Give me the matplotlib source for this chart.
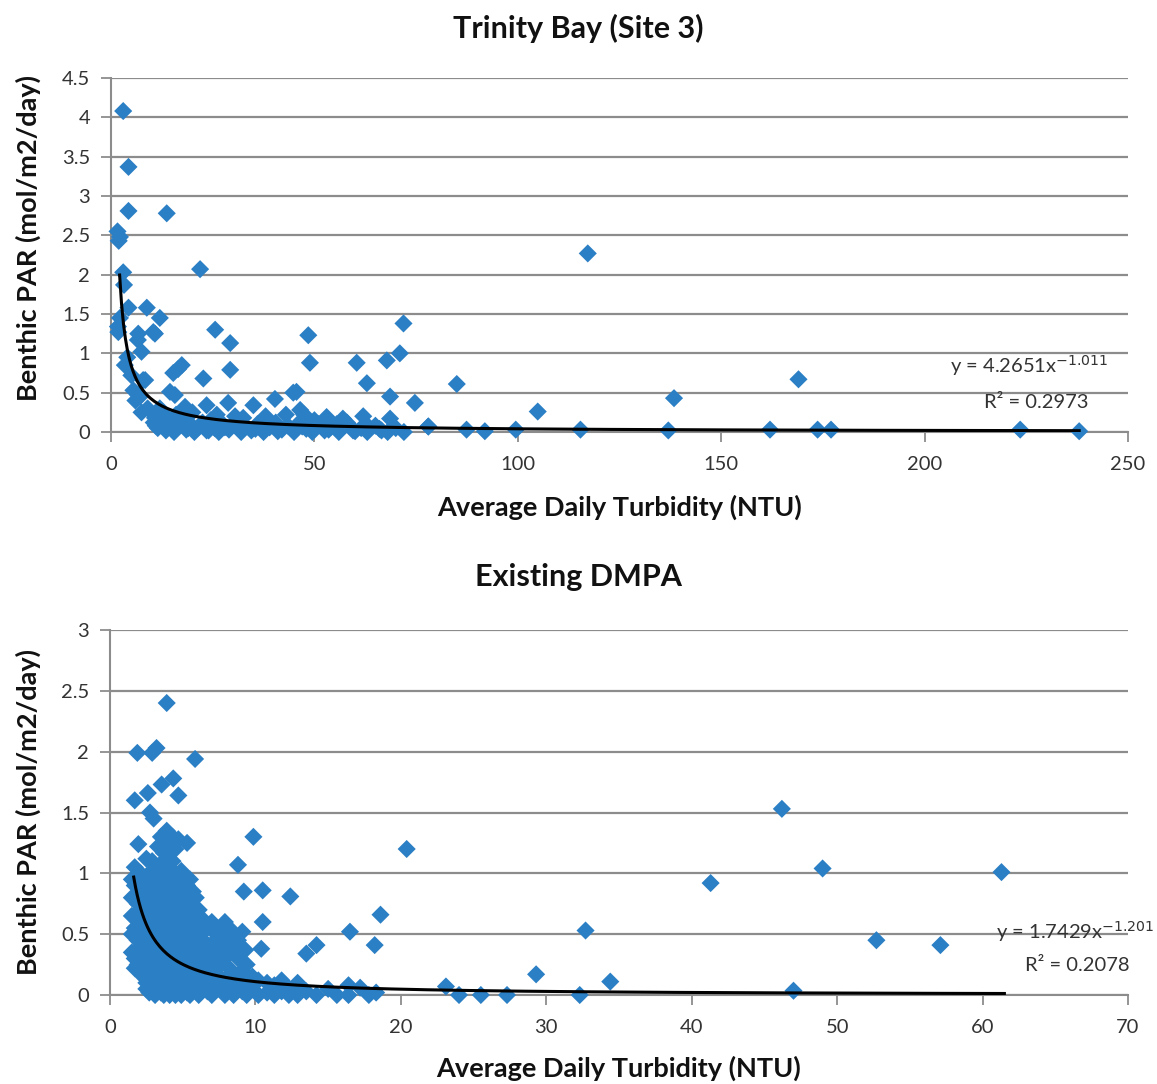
import matplotlib
matplotlib.use("Agg")
import matplotlib.pyplot as plt
import matplotlib.transforms as mtransforms
import numpy as np

plt.rcParams["font.family"] = ["Lato", "DejaVu Sans"]

BLUE = "#2b7fc4"
GRID = "#8c8c8c"
W, H = 1157, 1084

# --- Trinity Bay (Site 3) ---
top_x = [
    3.0, 4.3, 4.3, 13.7, 1.6, 2.2, 1.9, 21.9, 3.0, 3.2, 4.3, 8.8, 2.2, 12.0, 1.7,
    10.4, 6.6, 7.5, 25.6, 29.3, 48.5, 48.9, 71.9, 71.0, 67.8, 60.4, 68.6, 74.7,
    85.0, 62.9, 3.4, 5.5, 7.1, 7.9, 17.4, 15.3, 16.5, 22.7, 29.3, 14.5, 15.7,
    10.8, 13.7, 18.2, 23.5, 28.8, 35.0, 40.3, 44.8, 46.5, 47.5, 53.0, 57.0, 68.6,
    78.0, 87.4, 91.9, 117.2, 169.0, 138.4, 104.9, 99.5, 115.4, 137.0, 162.0,
    173.7, 177.0, 223.5, 238.0, 1.8, 6.7, 10.8, 8.4, 6.7, 45.6, 62.9, 78.0,
    10.5, 11.5, 12.5, 13.5, 14.5, 15.5, 16.5, 17.5, 18.5, 19.5, 20.5, 21.5,
    22.5, 23.5, 24.5, 25.5, 26.5, 27.5, 29.0, 30.5, 32.0, 33.0, 34.5, 36.0,
    37.5, 39.0, 40.5, 42.0, 43.5, 45.0, 46.5, 48.0, 49.5, 51.0, 52.5, 54.0,
    56.0, 58.0, 59.5, 61.5, 63.0, 65.0, 66.5, 68.0, 70.0, 72.0, 18.0, 20.0,
    26.0, 30.5, 32.5, 38.0, 43.0, 50.0, 55.5, 62.0, 16.0, 12.0, 9.0, 6.0,
    5.0, 4.0, 7.5, 11.0, 19.0, 24.0, 28.0, 35.5, 41.0, 47.0, 53.5, 60.0, 66.0,
]
top_y = [
    4.08, 3.37, 2.81, 2.78, 2.55, 2.48, 2.43, 2.07, 2.03, 1.87, 1.58, 1.58, 1.45,
    1.45, 1.34, 1.27, 1.17, 1.02, 1.30, 1.13, 1.23, 0.88, 1.38, 1.00, 0.91, 0.88,
    0.45, 0.37, 0.61, 0.62, 0.85, 0.53, 0.45, 0.66, 0.85, 0.75, 0.80, 0.68, 0.79,
    0.51, 0.47, 0.18, 0.19, 0.32, 0.34, 0.37, 0.34, 0.42, 0.50, 0.28, 0.22, 0.19,
    0.17, 0.17, 0.07, 0.03, 0.01, 2.27, 0.67, 0.43, 0.26, 0.03, 0.03, 0.02, 0.03,
    0.03, 0.03, 0.03, 0.01, 1.27, 1.25, 1.25, 0.66, 0.47, 0.51, 0.09, 0.07,
    0.12, 0.05, 0.15, 0.02, 0.10, 0.00, 0.08, 0.13, 0.03, 0.10, 0.00, 0.06,
    0.12, 0.02, 0.15, 0.05, 0.00, 0.10, 0.03, 0.12, 0.00, 0.07, 0.02, 0.10,
    0.00, 0.06, 0.12, 0.03, 0.08, 0.00, 0.13, 0.04, 0.00, 0.10, 0.02, 0.06,
    0.00, 0.12, 0.02, 0.05, 0.00, 0.08, 0.02, 0.00, 0.05, 0.00, 0.20, 0.25,
    0.22, 0.20, 0.18, 0.20, 0.22, 0.15, 0.10, 0.20, 0.22, 0.30, 0.30, 0.40,
    0.72, 0.95, 0.25, 0.08, 0.05, 0.02, 0.06, 0.04, 0.01, 0.07, 0.03, 0.01, 0.04,
]
top_a, top_b, top_r2 = 4.2651, -1.011, 0.2973
top_trend_range = (2.12, 238.0)

# --- Existing DMPA ---
bot_x = [
    # outliers
    3.9, 1.88, 2.9, 3.2, 5.85, 3.55, 4.35, 4.7, 1.7, 2.6, 2.75, 3.0, 1.95, 3.7,
    9.86, 8.8, 9.2, 10.5, 12.4, 10.5, 16.5, 18.6, 18.2, 13.5, 14.2, 9.3, 10.4,
    2.3, 20.4, 41.3, 46.2, 49.0, 61.3, 32.7, 52.7, 57.1, 29.3, 34.4, 23.1, 24.0,
    25.5, 27.3, 32.3, 47.0,
    # dense cluster
    1.5, 1.5, 1.5, 1.5, 1.5,
    1.7, 1.7, 1.7, 1.7, 1.7,
    1.9, 1.9, 1.9, 1.9,
    2.1, 2.1, 2.1, 2.1, 2.1, 2.1,
    2.3, 2.3, 2.3, 2.3, 2.3,
    2.5, 2.5, 2.5, 2.5, 2.5, 2.5, 2.5,
    2.7, 2.7, 2.7, 2.7, 2.7, 2.7, 2.7,
    2.9, 2.9, 2.9, 2.9, 2.9, 2.9, 2.9,
    3.1, 3.1, 3.1, 3.1, 3.1, 3.1, 3.1,
    3.3, 3.3, 3.3, 3.3, 3.3, 3.3, 3.3,
    3.5, 3.5, 3.5, 3.5, 3.5, 3.5, 3.5, 3.5,
    3.7, 3.7, 3.7, 3.7, 3.7, 3.7, 3.7, 3.7,
    3.9, 3.9, 3.9, 3.9, 3.9, 3.9, 3.9, 3.9,
    4.1, 4.1, 4.1, 4.1, 4.1, 4.1, 4.1, 4.1,
    4.3, 4.3, 4.3, 4.3, 4.3, 4.3, 4.3, 4.3,
    4.5, 4.5, 4.5, 4.5, 4.5, 4.5, 4.5, 4.5,
    4.7, 4.7, 4.7, 4.7, 4.7, 4.7, 4.7,
    4.9, 4.9, 4.9, 4.9, 4.9, 4.9, 4.9,
    5.1, 5.1, 5.1, 5.1, 5.1, 5.1,
    5.3, 5.3, 5.3, 5.3, 5.3, 5.3, 5.3,
    5.5, 5.5, 5.5, 5.5, 5.5, 5.5, 5.5,
    5.7, 5.7, 5.7, 5.7, 5.7, 5.7,
    5.9, 5.9, 5.9, 5.9, 5.9,
    6.1, 6.1, 6.1, 6.1, 6.1,
    6.4, 6.4, 6.4, 6.4,
    6.7, 6.7, 6.7, 6.7,
    7.0, 7.0, 7.0, 7.0, 7.0,
    7.3, 7.3, 7.3, 7.3,
    7.6, 7.6, 7.6, 7.6,
    7.9, 7.9, 7.9, 7.9, 7.9,
    8.2, 8.2, 8.2, 8.2,
    8.5, 8.5, 8.5, 8.5,
    8.8, 8.8, 8.8,
    9.1, 9.1, 9.1, 9.1,
    9.4, 9.4, 9.4,
    9.8, 9.8, 10.2, 10.2, 10.8, 10.8, 11.3, 11.3, 11.8, 11.8, 12.3, 12.3,
    12.9, 12.9, 13.5, 14.2, 15.0, 15.6, 16.4, 16.4, 17.2, 17.8, 18.3,
]
bot_y = [
    2.40, 1.99, 1.99, 2.03, 1.94, 1.73, 1.78, 1.64, 1.60, 1.66, 1.50, 1.45, 1.24,
    1.17, 1.30, 1.07, 0.85, 0.86, 0.81, 0.60, 0.52, 0.66, 0.41, 0.34, 0.41, 0.37,
    0.38, 0.26, 1.20, 0.92, 1.53, 1.04, 1.01, 0.53, 0.45, 0.41, 0.17, 0.11, 0.07,
    0.00, 0.00, 0.00, 0.00, 0.035,
    0.95, 0.80, 0.65, 0.50, 0.35,
    1.05, 0.90, 0.55, 0.30, 0.22,
    0.92, 0.75, 0.45, 0.25,
    1.00, 0.85, 0.70, 0.60, 0.40, 0.20,
    0.95, 0.80, 0.50, 0.30, 0.15,
    1.12, 0.90, 0.72, 0.55, 0.40, 0.10, 0.05,
    1.00, 0.82, 0.65, 0.45, 0.30, 0.18, 0.02,
    1.10, 0.92, 0.75, 0.58, 0.38, 0.22, 0.08,
    1.02, 0.85, 0.68, 0.50, 0.32, 0.15, 0.00,
    1.22, 0.95, 0.78, 0.60, 0.42, 0.25, 0.05,
    1.30, 1.08, 0.88, 0.70, 0.52, 0.35, 0.18, 0.02,
    1.17, 0.98, 0.80, 0.62, 0.45, 0.28, 0.10, 0.00,
    1.35, 1.05, 0.90, 0.72, 0.55, 0.38, 0.20, 0.05,
    1.25, 0.96, 0.78, 0.60, 0.42, 0.25, 0.12, 0.00,
    1.30, 1.10, 0.88, 0.70, 0.52, 0.35, 0.18, 0.03,
    1.20, 1.00, 0.82, 0.65, 0.46, 0.30, 0.10, 0.00,
    1.28, 0.95, 0.75, 0.57, 0.40, 0.22, 0.05,
    1.02, 0.85, 0.68, 0.50, 0.33, 0.15, 0.00,
    0.98, 0.80, 0.60, 0.42, 0.26, 0.08,
    1.25, 0.90, 0.72, 0.55, 0.36, 0.18, 0.02,
    0.95, 0.78, 0.62, 0.45, 0.28, 0.10, 0.00,
    0.85, 0.68, 0.50, 0.33, 0.15, 0.03,
    0.80, 0.60, 0.42, 0.25, 0.08,
    0.70, 0.55, 0.35, 0.18, 0.00,
    0.62, 0.45, 0.28, 0.10,
    0.55, 0.38, 0.20, 0.03,
    0.60, 0.42, 0.28, 0.12, 0.00,
    0.50, 0.35, 0.18, 0.05,
    0.55, 0.40, 0.25, 0.08,
    0.60, 0.45, 0.30, 0.12, 0.00,
    0.55, 0.40, 0.22, 0.05,
    0.50, 0.35, 0.15, 0.00,
    0.45, 0.30, 0.10,
    0.52, 0.38, 0.20, 0.03,
    0.25, 0.12, 0.00,
    0.15, 0.05, 0.12, 0.00, 0.10, 0.02, 0.08, 0.00, 0.12, 0.03, 0.05, 0.00,
    0.10, 0.00, 0.03, 0.00, 0.05, 0.00, 0.08, 0.00, 0.06, 0.00, 0.02,
]
bot_a, bot_b, bot_r2 = 1.7429, -1.201, 0.2078
bot_trend_range = (1.63, 61.5)

panels = [
    {
        "title": "Trinity Bay (Site 3)", "x": top_x, "y": top_y,
        "a": top_a, "b": top_b, "r2": top_r2, "trend": top_trend_range,
        "xlim": (0, 250), "xticks": [0, 50, 100, 150, 200, 250],
        "ylim": (0, 4.5), "yticks": [0, 0.5, 1, 1.5, 2, 2.5, 3, 3.5, 4, 4.5],
        "rect": [111 / W, 1 - 432 / H, 1017 / W, 354 / H],
        "title_y": 28, "xlabel_y": 507, "ylabel_y": 238,
        "eq_xy": (1029, 0.85), "r2_xy": (1088, 0.37),
    },
    {
        "title": "Existing DMPA", "x": bot_x, "y": bot_y,
        "a": bot_a, "b": bot_b, "r2": bot_r2, "trend": bot_trend_range,
        "xlim": (0, 70), "xticks": [0, 10, 20, 30, 40, 50, 60, 70],
        "ylim": (0, 3), "yticks": [0, 0.5, 1, 1.5, 2, 2.5, 3],
        "rect": [110 / W, 1 - 995 / H, 1018 / W, 365 / H],
        "title_y": 577, "xlabel_y": 1068, "ylabel_y": 812,
        "eq_xy": (1075, 0.52), "r2_xy": (1130, 0.245),
    },
]


def fmt(v):
    return f"{v:g}"


fig = plt.figure(figsize=(W / 100, H / 100), dpi=100)

for p in panels:
    ax = fig.add_axes(p["rect"])
    x = np.array(p["x"])
    y = np.array(p["y"])
    ax.scatter(x, y, marker="D", s=85, color=BLUE, edgecolors="none", zorder=3,
               clip_on=False)

    xs = np.linspace(p["trend"][0], p["trend"][1], 500)
    ax.plot(xs, p["a"] * xs ** p["b"], color="black", lw=2.2, zorder=4)

    ax.set_xlim(*p["xlim"])
    ax.set_ylim(*p["ylim"])
    ax.set_xticks(p["xticks"])
    ax.set_yticks(p["yticks"])
    ax.set_xticklabels([fmt(t) for t in p["xticks"]])
    ax.set_yticklabels([fmt(t) for t in p["yticks"]])
    ax.yaxis.grid(True, color=GRID, lw=1.6)
    ax.set_axisbelow(True)
    for side in ("top", "right"):
        ax.spines[side].set_visible(False)
    for side in ("left", "bottom"):
        ax.spines[side].set_color(GRID)
        ax.spines[side].set_linewidth(1.5)
    ax.tick_params(axis="both", colors=GRID, labelcolor="#333333", labelsize=14.5,
                   length=7, width=1.3, direction="out")
    ax.tick_params(axis="x", pad=10)
    ax.tick_params(axis="y", pad=8)

    cx = p["rect"][0] + p["rect"][2] / 2
    fig.text(0.5, 1 - p["title_y"] / H, p["title"], ha="center", va="center",
             fontsize=22, fontweight="bold", color="#111111")
    fig.text(cx, 1 - p["xlabel_y"] / H, "Average Daily Turbidity (NTU)",
             ha="center", va="center", fontsize=19.5, fontweight="bold",
             color="#111111")
    fig.text(28 / W, 1 - p["ylabel_y"] / H, "Benthic PAR (mol/m2/day)",
             ha="center", va="center", rotation=90, fontsize=19.5,
             fontweight="bold", color="#111111")

    # trendline equation: x given in figure pixels, y in data units
    blend = mtransforms.blended_transform_factory(ax.transAxes, ax.transData)
    ex = (p["eq_xy"][0] - p["rect"][0] * W) / (p["rect"][2] * W)
    rx = (p["r2_xy"][0] - p["rect"][0] * W) / (p["rect"][2] * W)
    ax.text(ex, p["eq_xy"][1], f"y = {p['a']}x$^{{{p['b']}}}$",
            transform=blend, ha="center", va="center", fontsize=14.5,
            color="#333333", zorder=5)
    ax.text(rx, p["r2_xy"][1], f"R² = {p['r2']}",
            transform=blend, ha="right", va="center", fontsize=14.5,
            color="#333333", zorder=5)

fig.savefig("out.png", dpi=100)
